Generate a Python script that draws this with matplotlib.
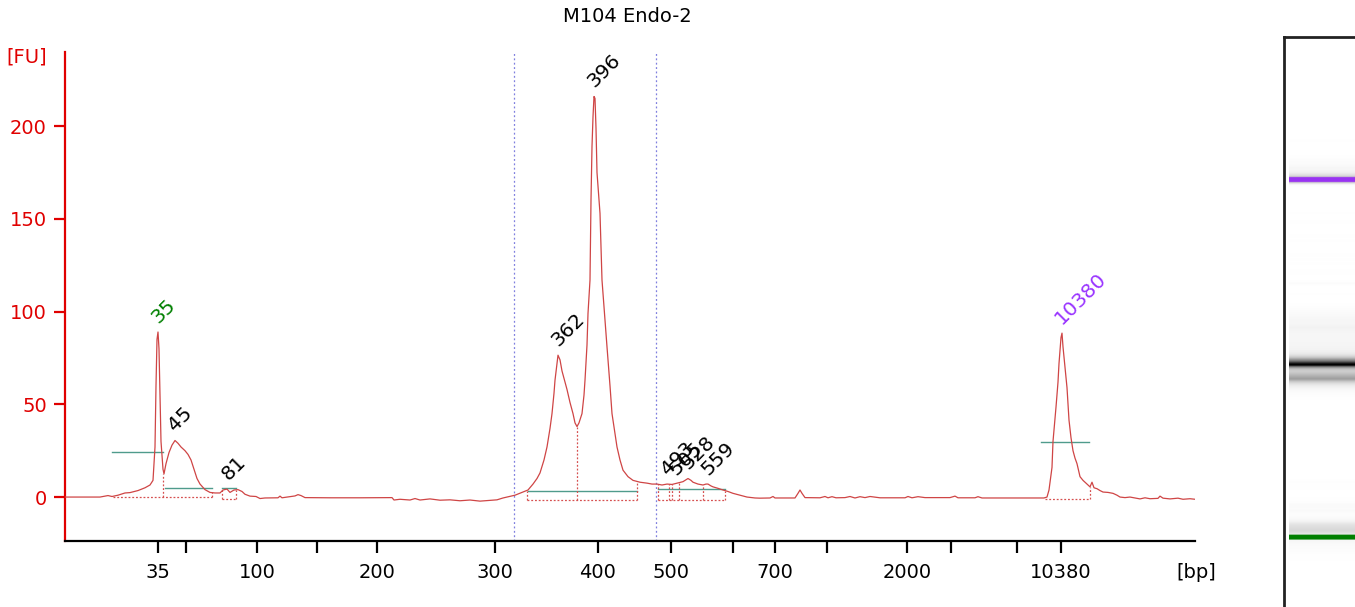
import numpy as np
import matplotlib.pyplot as plt

plt.rcParams['font.family'] = 'DejaVu Sans'

title = 'M104 Endo-2'

# electropherogram: migration position (a.u.) and fluorescence [FU]
trace_pos = [65, 100, 108, 112, 118, 125, 130, 138, 145, 150, 153, 155, 156, 157, 158, 159, 160, 161,
             163, 164, 166, 169, 172, 175, 178, 181, 185, 188, 191, 194, 197, 200, 205, 210, 215, 220,
             223, 227, 230, 234, 238, 242, 245, 250, 256, 260, 265, 278, 280, 282, 295, 298, 301, 305,
             330, 360, 392, 394, 400, 410, 415, 420, 430, 440, 450, 460, 470, 480, 490, 497, 503, 510,
             515, 522, 528, 533, 537, 540, 544, 547, 550, 552, 554, 555, 557, 558, 560, 562, 565, 567,
             570, 573, 575, 577, 579, 582, 584, 585, 587, 588, 590, 591, 592, 593, 594, 595, 596, 597,
             599, 600, 602, 605, 607, 610, 612, 615, 617, 620, 623, 628, 633, 640, 647, 652, 657, 662,
             667, 672, 677, 683, 688, 691, 693, 698, 703, 706, 708, 711, 713, 718, 723, 728, 733, 740,
             747, 755, 760, 770, 773, 775, 795, 798, 800, 802, 805, 820, 825, 828, 832, 836, 845, 850,
             855, 860, 865, 870, 880, 905, 908, 912, 918, 925, 950, 955, 958, 975, 978, 982, 1044, 1047,
             1049, 1051, 1052, 1053, 1055, 1056, 1058, 1059, 1061, 1062, 1063, 1065, 1067, 1069, 1071,
             1073, 1075, 1077, 1080, 1083, 1085, 1088, 1090, 1092, 1094, 1097, 1100, 1103, 1108, 1113,
             1117, 1120, 1125, 1130, 1135, 1140, 1145, 1150, 1158, 1160, 1163, 1170, 1178, 1183, 1190,
             1195]
trace_fu = [0, 0, 0.8, 0.3, 1, 2.2, 2.4, 3.5, 5, 6.5, 9, 27, 60, 85, 89, 80, 55, 30,
            15, 12.5, 18, 24, 28, 30.5, 29, 27, 25, 23, 20, 15, 10, 7, 4, 2.5, 2.2, 2.2,
            3.8, 4.3, 2.5, 3.8, 4, 3, 1.5, 0.5, 0.3, -0.8, -0.5, -0.4, 0.5, -0.4, 0.6, 1.3, 0.8, -0.3,
            -0.4, -0.4, -0.3, -1.6, -1.2, -1.6, -0.8, -1.6, -1, -1.7, -1.5, -2, -1.6, -2.2, -1.8, -1.5, -0.5, 0.4,
            1, 2.5, 3.8, 7, 10, 13, 20, 27, 37, 45, 56, 63, 72, 76.5, 74, 68, 62, 58,
            51, 45, 40, 38, 40, 45, 55, 63, 82, 99, 117, 160, 189, 205, 216, 215, 199, 175,
            160, 153, 117, 95, 81, 60, 45, 34, 27, 20, 14.5, 11, 9, 8, 7.5, 7, 7, 6.5,
            7, 6.8, 7.5, 8.3, 10, 9, 8, 7, 6.5, 7, 7, 6, 5.5, 4.7, 3.8, 3, 2, 1,
            0, -0.5, -0.6, -0.5, 0.3, -0.5, -0.5, 2, 3.8, 2, -0.3, -0.4, 0.3, -0.4, 0.2, -0.4, -0.3, 0.3,
            -0.5, 0.2, -0.3, 0.3, -0.4, -0.4, 0.3, -0.4, 0.2, -0.3, -0.3, 0.5, -0.4, -0.4, 0.2, -0.5, -0.5, 0,
            3.8, 12, 16, 30, 42, 48.5, 62, 72, 86, 88.4, 81, 70, 59, 41.5, 32,
            25, 21, 18, 11, 9, 8, 6.5, 5.5, 8, 5, 4.5, 3.5, 2.7, 2.5, 2,
            1, 0, -0.3, 0, -0.5, -1, -0.4, -0.9, -0.7, 0.5, -0.6, -1, -0.6, -1.2, -0.9,
            -1.2]

# size axis
tick_pos = [158, 186, 257, 317, 377, 495, 598, 671, 733, 775, 827, 907, 951, 1017, 1061]
tick_lbl = ['35', '', '100', '', '200', '300', '400', '500', '', '700', '', '2000', '', '', '10380']
fu_ticks = [0, 50, 100, 150, 200]

# region of interest
region_bounds = [514, 656]

# called peaks
peak_pos = [158, 175, 229, 558, 594, 668, 676, 688, 708, 1062]
peak_fu = [89, 30.5, 4.3, 76.5, 216, 7, 7, 10, 7, 88.4]
peak_lbl = ['35', '45', '81', '362', '396', '493', '505', '528', '559', '10380']
peak_col = ['#008000', 'black', 'black', 'black', 'black', 'black', 'black', 'black', 'black', '#9933ff']

# peak width bars
width_start = [112, 165, 222, 528, 658, 1041]
width_end = [163, 212, 236, 637, 725, 1089]
width_level = [24.5, 4.7, 4.7, 3.4, 4.3, 29.6]

# integration baselines and drop lines
base_start = [113, 222, 527, 658, 1045]
base_end = [212, 236, 637, 725, 1090]
base_level = [0, -1, -1.4, -1.4, -1]
drop_pos = [163, 212, 222, 236, 527, 577, 637, 658, 669, 672, 679, 703, 725, 1090]
drop_top = [12.5, 2.5, 4.5, 4, 3.4, 38, 8.5, 7, 7, 7, 7.5, 6.5, 3.5, 5.5]

# gel markers
lower_marker, upper_marker = 158, 1062
marker_colors = {lower_marker: (0.0, 0.5, 0.0), upper_marker: (0.6, 0.2, 0.95)}

red = '#e00000'
fig = plt.figure(figsize=(13.55, 6.07), dpi=100)
ax = fig.add_axes([65 / 1355, 1 - 541 / 607, 1130 / 1355, 489 / 607])

ax.plot(trace_pos, trace_fu, color='#cf4545', lw=0.9, zorder=3)

for x in region_bounds:
    ax.axvline(x, color='#7f7fdf', lw=0.9, ls=(0, (1.5, 2)), zorder=1)

for x0, x1, y in zip(width_start, width_end, width_level):
    ax.plot([x0, x1], [y, y], color='#4f9b8c', lw=1, zorder=2)

for x0, x1, y in zip(base_start, base_end, base_level):
    ax.plot([x0, x1], [y, y], color='#d65050', lw=0.9, ls=(0, (1.5, 1.5)), zorder=2)
for x, top in zip(drop_pos, drop_top):
    lvl = 0
    for x0, x1, y in zip(base_start, base_end, base_level):
        if x0 <= x <= x1:
            lvl = y
    ax.plot([x, x], [lvl, top], color='#d65050', lw=0.9, ls=(0, (1.5, 1.5)), zorder=2)

for x, y, t, c in zip(peak_pos, peak_fu, peak_lbl, peak_col):
    ax.annotate(t, (x, y), xytext=(0, 6), textcoords='offset points', rotation=45,
                rotation_mode='anchor', ha='left', va='baseline', fontsize=14.5, color=c)

ax.set_xlim(65, 1195)
ax.set_ylim(-23.7, 240)
ax.set_xticks(tick_pos)
ax.set_xticklabels(tick_lbl)
ax.set_yticks(fu_ticks)
for s in ['top', 'right']:
    ax.spines[s].set_visible(False)
ax.spines['left'].set_color(red)
ax.spines['left'].set_linewidth(1.6)
ax.spines['bottom'].set_linewidth(1.6)
ax.tick_params(axis='y', colors=red, length=8, width=1.6, labelsize=14, pad=5)
ax.tick_params(axis='x', length=8.5, width=1.6, labelsize=14, pad=7)

fig.text(627 / 1355, 1 - 17 / 607, title, ha='center', va='center', fontsize=14)
fig.text(27 / 1355, 1 - 57 / 607, '[FU]', ha='center', va='center', fontsize=14, color=red)
fig.text(1196 / 1355, 1 - 573 / 607, '[bp]', ha='center', va='center', fontsize=14)

# gel-like lane view
gax = fig.add_axes([1284 / 1355, 0, 80 / 1355, 570 / 607])
grid = np.arange(trace_pos[0], trace_pos[-1], 0.5)
prof = np.interp(grid, trace_pos, trace_fu)
kern = np.ones(7) / 7
prof = np.convolve(prof, kern, mode='same')
shade = 1.0 - np.clip(prof / 200.0, 0, 1)
img = np.repeat(shade[:, None, None], 3, axis=2)
for m, col in marker_colors.items():
    sel = np.abs(grid - m) <= 6
    img[sel, 0, :] = col
gax.imshow(img, origin='lower', extent=(0.06, 1.0, grid[0], grid[-1]), aspect='auto',
           interpolation='bilinear')
gax.set_xlim(0, 1)
gax.set_ylim(-19, 1424)
gax.set_xticks([])
gax.set_yticks([])
for s in ['bottom', 'right']:
    gax.spines[s].set_visible(False)
for s in ['left', 'top']:
    gax.spines[s].set_linewidth(2)
    gax.spines[s].set_color('#222222')

fig.savefig('out.png', dpi=100)
